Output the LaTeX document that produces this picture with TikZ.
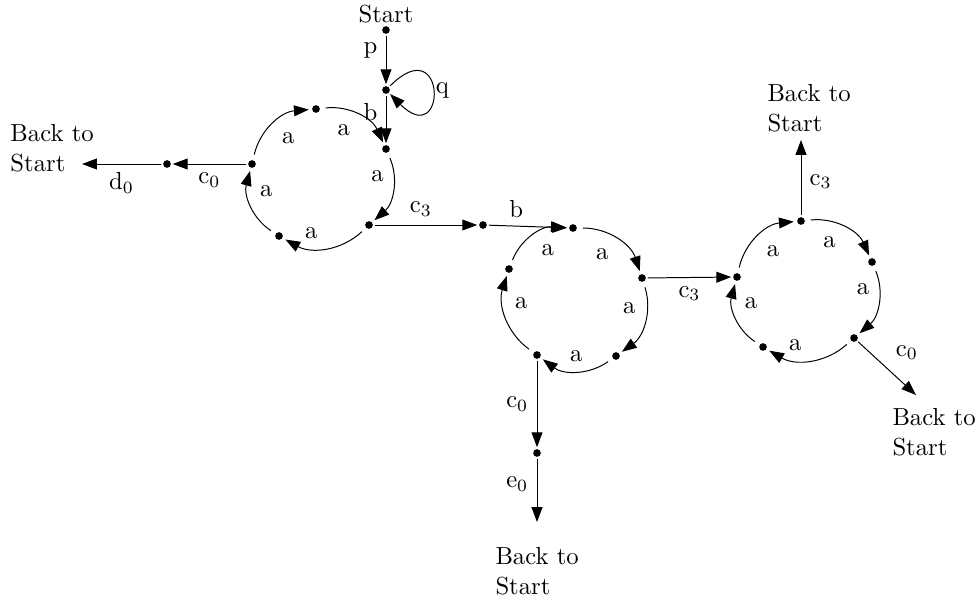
\documentclass[tikz,border=0pt]{standalone}
\usepackage{tikz}
\usetikzlibrary{arrows.meta}
\usetikzlibrary{calc}
\def\backstart{Back to\\Start}
\tikzset{dot/.style={circle,fill,inner sep=0pt,minimum size=3.1pt,outer sep=0.8pt},
  arr/.style={-{Triangle[length=6pt,width=4.4pt]}},
  ring/.style={arr,bend left=36,shorten <=1.6pt,shorten >=0.6pt,auto=right},
  bts/.style={align=left,inner sep=0pt,anchor=west}}

\begin{document}
\begin{tikzpicture}[x=0.01425cm,y=-0.01425cm]
\useasboundingbox (0,0) rectangle (980,602);
\node (st) at (386,14) {Start};
\node[dot] (s0) at (386,30) {};
\node[dot] (s1) at (386,90) {};
   \node[dot] (u1) at (386,149) {};
   \node[dot] (u2) at (369,225) {};
   \node[dot] (u3) at (279,236) {};
   \node[dot] (u4) at (252,164) {};
   \node[dot] (u5) at (316,109) {};
\node[dot] (l1) at (167,164) {};
\coordinate (x1) at (82,164);
\node[bts] (b1) at (10,148) {\backstart};
\node[dot] (m1) at (483,225) {};
   \node[dot] (v1) at (573,228) {};
   \node[dot] (v2) at (642,278) {};
   \node[dot] (v3) at (616,356) {};
   \node[dot] (v4) at (537,355) {};
   \node[dot] (v5) at (509,269) {};
\node[dot] (n1) at (537,453) {};
\coordinate (x2) at (537,522);
\node[bts] (b2) at (495,571) {\backstart};
   \node[dot] (w1) at (737,277) {};
   \node[dot] (w2) at (801,221) {};
   \node[dot] (w3) at (872,262) {};
   \node[dot] (w4) at (854,338) {};
   \node[dot] (w5) at (763,347) {};
\coordinate (x3) at (801,140);
\node[bts] (b3) at (767,108) {\backstart};
\coordinate (x4) at (916,395);
\node[bts] (b4) at (892,432) {\backstart};

\draw[arr] (s0) -- node[left,pos=.3] {p} (s1);
\draw[arr] (s1) to[out=45,in=-45,min distance=11.5mm] node[right,inner sep=1pt] {q} (s1);
\draw[arr] (s1) -- node[left,pos=.35] {b} (u1);
\draw[ring] (u5) to node {a} (u1);
\draw[ring] (u1) to node {a} (u2);
\draw[ring] (u2) to node {a} (u3);
\draw[ring] (u3) to node {a} (u4);
\draw[ring] (u4) to node {a} (u5);
\draw[arr] (u4) -- node[below] {c$_0$} (l1);
\draw[arr] (l1) -- node[below] {d$_0$} (x1);
\draw[arr] (u2) -- node[above,pos=.45] {c$_3$} (m1);
\draw[arr] (m1) -- node[above,pos=.35] {b} (v1);
\draw[ring] (v1) to node {a} (v2);
\draw[ring] (v2) to node {a} (v3);
\draw[ring] (v3) to node {a} (v4);
\draw[ring] (v4) to node {a} (v5);
\draw[ring] (v5) to node {a} (v1);
\draw[arr] (v4) -- node[left] {c$_0$} (n1);
\draw[arr] (n1) -- node[left,pos=.4] {e$_0$} (x2);
\draw[arr] (v2) -- node[below] {c$_3$} (w1);
\draw[ring] (w1) to node {a} (w2);
\draw[ring] (w2) to node {a} (w3);
\draw[ring] (w3) to node {a} (w4);
\draw[ring] (w4) to node {a} (w5);
\draw[ring] (w5) to node {a} (w1);
\draw[arr] (w2) -- node[right,pos=.45] {c$_3$} (x3);
\draw[arr] (w4) -- node[auto] {c$_0$} (x4);
\end{tikzpicture}
\end{document}
